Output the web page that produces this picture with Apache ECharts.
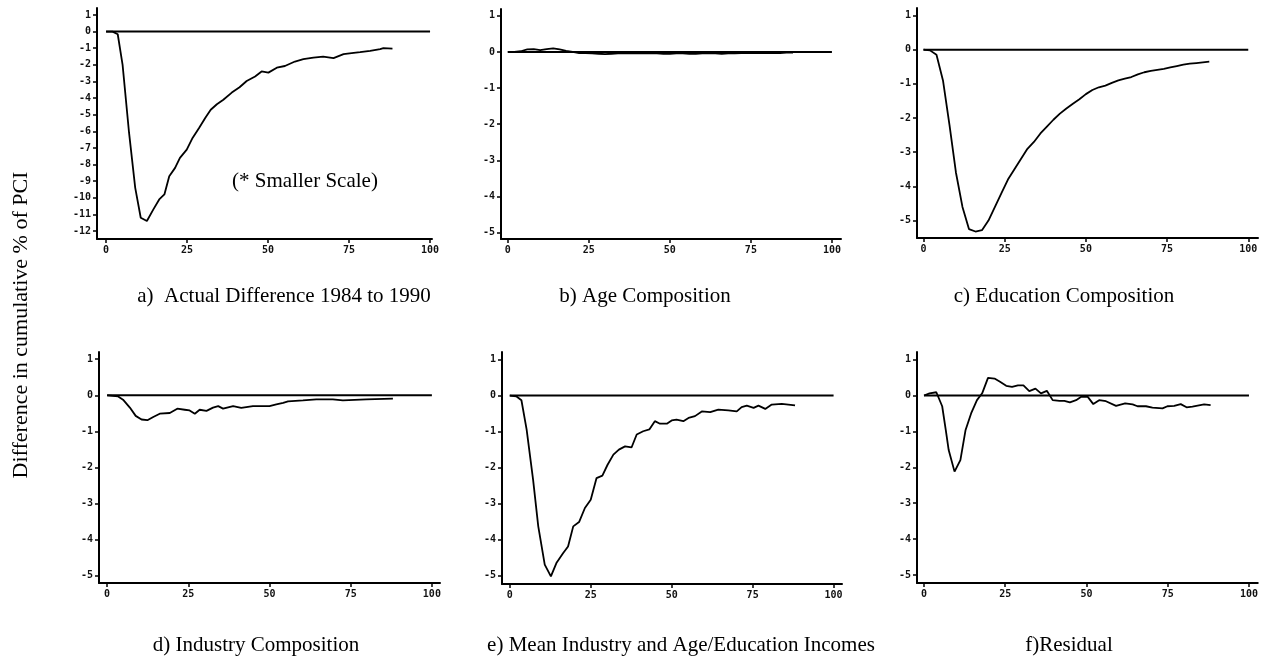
<!DOCTYPE html>
<html>
<head>
<meta charset="utf-8">
<script src="https://cdn.jsdelivr.net/npm/echarts@6/dist/echarts.min.js"></script>
<style>
html,body{margin:0;padding:0;background:#fff;}
#c{width:1261px;height:658px;}
</style>
</head>
<body>
<div id="c"></div>
<script>
// ---- data ----
const xTicks = [0, 25, 50, 75, 100];
const yTicksA = [-12, -11, -10, -9, -8, -7, -6, -5, -4, -3, -2, -1, 0, 1];
const yTicksOther = [-5, -4, -3, -2, -1, 0, 1];
const zeroX = [0, 100];
const zeroY = [0, 0];

const aX = [0, 2, 3.6, 5.1, 7.1, 9, 10.7, 12.6, 14.6, 16.4, 18, 19.5, 21.3, 22.8, 24.9, 26.7, 28.7, 30.6, 32.3, 34.2, 36.2, 38.8, 41.2, 43.4, 46, 48, 50.1, 52.7, 55.2, 58.3, 60.9, 64, 67, 70.2, 73.3, 75.8, 78.4, 81.5, 84.6, 85.6, 88.4];
const aY = [0, 0, -0.16, -2.0, -6.1, -9.4, -11.2, -11.4, -10.7, -10.1, -9.8, -8.7, -8.2, -7.6, -7.1, -6.4, -5.8, -5.2, -4.7, -4.37, -4.1, -3.67, -3.35, -2.97, -2.7, -2.4, -2.47, -2.17, -2.07, -1.8, -1.66, -1.56, -1.5, -1.6, -1.36, -1.3, -1.24, -1.16, -1.06, -1.0, -1.02];

const bX = [0, 2, 4, 6, 8, 10, 12, 14, 16, 18, 20, 22, 24, 26, 28, 30, 32, 34, 36, 38, 40, 42, 44, 46, 48, 50, 52, 54, 56, 58, 60, 62, 64, 66, 68, 70, 72, 74, 76, 78, 80, 82, 84, 86, 88];
const bY = [0, 0, 0.02, 0.07, 0.08, 0.05, 0.08, 0.1, 0.07, 0.03, 0.0, -0.03, -0.03, -0.04, -0.05, -0.06, -0.05, -0.04, -0.04, -0.04, -0.04, -0.04, -0.04, -0.04, -0.05, -0.05, -0.04, -0.04, -0.05, -0.05, -0.04, -0.04, -0.04, -0.05, -0.04, -0.04, -0.03, -0.03, -0.03, -0.03, -0.03, -0.03, -0.03, -0.02, -0.02];

const cX = [0, 2, 4, 6, 8, 10, 12, 14, 16, 18, 20, 22, 24, 26, 28, 30, 32, 34, 36, 38, 40, 42, 44, 46, 48, 50, 52, 54, 56, 58, 60, 62, 64, 66, 68, 70, 72, 74, 76, 78, 80, 82, 84, 86, 88];
const cY = [0, -0.02, -0.15, -0.9, -2.2, -3.6, -4.6, -5.25, -5.32, -5.28, -5.0, -4.6, -4.2, -3.8, -3.5, -3.2, -2.9, -2.7, -2.45, -2.25, -2.05, -1.87, -1.72, -1.58, -1.45, -1.3, -1.18, -1.1, -1.05, -0.97, -0.9, -0.85, -0.8, -0.72, -0.66, -0.62, -0.59, -0.56, -0.52, -0.48, -0.44, -0.41, -0.39, -0.37, -0.35];

const dX = [0, 3.4, 4.9, 7, 8.8, 10.6, 12.4, 14.2, 16.2, 19.3, 21.6, 23.9, 25.4, 27, 28.5, 30.6, 32.6, 34.2, 35.7, 38.8, 41.3, 44.9, 50, 52.1, 54.2, 55.7, 60.3, 64.4, 69.5, 72.6, 79.8, 88];
const dY = [0, -0.03, -0.12, -0.34, -0.57, -0.67, -0.69, -0.6, -0.51, -0.49, -0.37, -0.4, -0.42, -0.51, -0.4, -0.43, -0.34, -0.3, -0.37, -0.3, -0.35, -0.3, -0.3, -0.25, -0.21, -0.17, -0.14, -0.11, -0.11, -0.14, -0.11, -0.09];

const eX = [0, 2, 3.6, 5.2, 7.2, 8.8, 10.8, 12.7, 14.4, 16.5, 18, 19.6, 21.4, 23.2, 25, 26.8, 28.6, 30.2, 32, 33.7, 35.6, 37.6, 39.2, 41.2, 43.1, 44.8, 46.4, 48.5, 50, 51.5, 53.6, 55.2, 57.2, 59.3, 61.9, 64.4, 67.5, 70.1, 71.6, 73.2, 75.3, 76.8, 78.9, 80.9, 84, 88.1];
const eY = [0, -0.02, -0.13, -0.94, -2.33, -3.63, -4.69, -5.02, -4.65, -4.37, -4.19, -3.63, -3.51, -3.12, -2.89, -2.29, -2.22, -1.92, -1.64, -1.5, -1.41, -1.44, -1.08, -0.99, -0.94, -0.71, -0.78, -0.78, -0.69, -0.67, -0.71, -0.62, -0.57, -0.44, -0.46, -0.39, -0.41, -0.44, -0.32, -0.28, -0.34, -0.28, -0.37, -0.25, -0.23, -0.27];

const fX = [0, 1.7, 3.8, 5.6, 6.7, 7.6, 9.4, 11.2, 12.8, 14.5, 16.3, 17.9, 19.7, 21.7, 23.4, 25.3, 27.1, 28.9, 30.6, 32.4, 34.3, 36, 37.8, 39.6, 41.7, 43.2, 44.9, 46.8, 48.5, 50.4, 52.1, 53.9, 56, 59.1, 61.9, 64.2, 65.7, 68.3, 70.3, 73.4, 74.9, 77, 79, 80.8, 82.6, 86.2, 88.2];
const fY = [0, 0.06, 0.09, -0.3, -0.96, -1.52, -2.12, -1.8, -0.96, -0.5, -0.13, 0.06, 0.49, 0.47, 0.38, 0.27, 0.24, 0.28, 0.28, 0.12, 0.19, 0.06, 0.13, -0.13, -0.15, -0.15, -0.19, -0.13, -0.03, -0.04, -0.24, -0.13, -0.16, -0.29, -0.22, -0.25, -0.3, -0.3, -0.34, -0.36, -0.3, -0.29, -0.24, -0.33, -0.31, -0.25, -0.27];

const panelTitles = ['a)  Actual Difference 1984 to 1990', 'b) Age Composition', 'c) Education Composition',
  'd) Industry Composition', 'e) Mean Industry and Age/Education Incomes', 'f)Residual'];
const yAxisTitle = 'Difference in cumulative % of PCI';
const noteText = '(* Smaller Scale)';

// ---- layout ----
const panels = [
  {x: aX, y: aY, yt: yTicksA, grid: {left: 97, top: 8, width: 335, height: 231}, xr: [-2.8, 100.6], yr: [-12.48, 1.42]},
  {x: bX, y: bY, yt: yTicksOther, grid: {left: 501, top: 9, width: 340, height: 230}, xr: [-2.1, 102.8], yr: [-5.18, 1.19]},
  {x: cX, y: cY, yt: yTicksOther, grid: {left: 917, top: 8, width: 341, height: 230}, xr: [-2.0, 103], yr: [-5.51, 1.22]},
  {x: dX, y: dY, yt: yTicksOther, grid: {left: 99, top: 352, width: 341, height: 231}, xr: [-2.5, 102.5], yr: [-5.2, 1.2]},
  {x: eX, y: eY, yt: yTicksOther, grid: {left: 502, top: 352, width: 340, height: 232}, xr: [-2.4, 102.6], yr: [-5.23, 1.21]},
  {x: fX, y: fY, yt: yTicksOther, grid: {left: 917, top: 352, width: 342, height: 231}, xr: [-2.15, 102.7], yr: [-5.22, 1.21]}
];

const tickFont = {fontFamily: 'DejaVu Sans Mono', fontSize: 10, fontWeight: 'bold', color: '#111'};
const axisLine = {show: true, onZero: false, lineStyle: {color: '#000', width: 2}};

const grids = [], xAxes = [], yAxes = [], series = [];
panels.forEach((p, i) => {
  grids.push(Object.assign({containLabel: false}, p.grid));
  xAxes.push({
    type: 'value', gridIndex: i, min: p.xr[0], max: p.xr[1],
    axisLine: axisLine,
    axisTick: {show: true, length: 4, customValues: xTicks, lineStyle: {color: '#000', width: 1.5}},
    axisLabel: Object.assign({customValues: xTicks, margin: 6}, tickFont),
    splitLine: {show: false}
  });
  yAxes.push({
    type: 'value', gridIndex: i, min: p.yr[0], max: p.yr[1],
    axisLine: axisLine,
    axisTick: {show: true, length: 4, customValues: p.yt, lineStyle: {color: '#000', width: 1.5}},
    axisLabel: Object.assign({customValues: p.yt, margin: 6}, tickFont),
    splitLine: {show: false}
  });
  series.push({
    type: 'line', xAxisIndex: i, yAxisIndex: i, showSymbol: false, silent: true,
    data: zeroX.map((v, k) => [v, zeroY[k]]),
    lineStyle: {color: '#000', width: 2}
  });
  series.push({
    type: 'line', xAxisIndex: i, yAxisIndex: i, showSymbol: false, silent: true,
    data: p.x.map((v, k) => [v, p.y[k]]),
    lineStyle: {color: '#000', width: 1.8}
  });
});

const serif = 'Liberation Serif';
const titlePos = [[284, 296], [645, 296], [1064, 296], [256, 645], [681, 645], [1069, 645]];
const graphic = panelTitles.map((t, i) => ({
  type: 'text', x: titlePos[i][0], y: titlePos[i][1],
  style: {text: t, fontFamily: serif, fontSize: 21, fill: '#000', textAlign: 'center', textVerticalAlign: 'middle'}
}));
graphic.push({
  type: 'text', x: 305, y: 181,
  style: {text: noteText, fontFamily: serif, fontSize: 21, fill: '#000', textAlign: 'center', textVerticalAlign: 'middle'}
});
graphic.push({
  type: 'text', x: 21, y: 325, rotation: Math.PI / 2,
  style: {text: yAxisTitle, fontFamily: serif, fontSize: 22, fill: '#000', textAlign: 'center', textVerticalAlign: 'middle'}
});

const chart = echarts.init(document.getElementById('c'), null, {renderer: 'canvas'});
chart.setOption({
  backgroundColor: '#fff',
  animation: false,
  grid: grids,
  xAxis: xAxes,
  yAxis: yAxes,
  series: series,
  graphic: graphic
});
</script>
</body>
</html>
